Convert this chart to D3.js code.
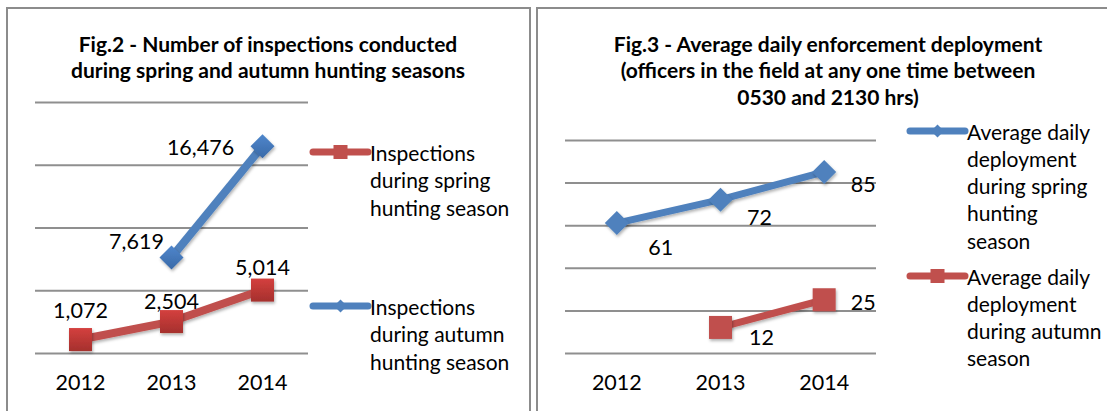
<!DOCTYPE html>
<html>
<head>
<meta charset="utf-8">
<script src="https://cdn.jsdelivr.net/npm/d3@7"></script>
<style>
  body { margin: 0; background: #fff; }
  svg text { font-family: Lato, "Open Sans", sans-serif; fill: #000; }
</style>
</head>
<body>
<svg id="chart" width="1107" height="411"></svg>
<script>
// data
var years = ["2012", "2013", "2014"];

var fig2Spring = [1072, 2504, 5014];      // red series
var fig2Autumn = [null, 7619, 16476];     // blue series
var fig2Ticks = [0, 5000, 10000, 15000, 20000];

var fig3Spring = [61, 72, 85];            // blue series
var fig3Autumn = [null, 12, 25];          // red series
var fig3Ticks = [0, 20, 40, 60, 80, 100];

var fig2Title = ["Fig.2 - Number of inspections conducted", "during spring and autumn hunting seasons"];
var fig3Title = ["Fig.3 - Average daily enforcement deployment", "(officers in the field at any one time between", "0530 and 2130 hrs)"];

var RED = "#c0504d", BLUE = "#4f81bd";

var svg = d3.select("#chart");
var defs = svg.append("defs");

var shadow = defs.append("filter").attr("id", "shadow")
    .attr("x", "-30%").attr("y", "-30%").attr("width", "160%").attr("height", "160%");
shadow.append("feDropShadow").attr("dx", 1).attr("dy", 2).attr("stdDeviation", 1.5)
    .attr("flood-color", "#000").attr("flood-opacity", 0.3);

function gradient(id, top, bottom) {
    var g = defs.append("linearGradient").attr("id", id)
        .attr("x1", 0).attr("y1", 0).attr("x2", 0).attr("y2", 1);
    g.append("stop").attr("offset", "0%").attr("stop-color", top);
    g.append("stop").attr("offset", "100%").attr("stop-color", bottom);
}
gradient("redGrad", "#d4403e", "#a5302d");
gradient("blueGrad", "#4f86cc", "#3a6aa8");

// panel frames
svg.append("rect").attr("x", 7).attr("y", 8).attr("width", 523).attr("height", 420)
    .attr("fill", "none").attr("stroke", "#8c8c8c").attr("stroke-width", 2);
svg.append("rect").attr("x", 537).attr("y", 8).attr("width", 600).attr("height", 420)
    .attr("fill", "none").attr("stroke", "#8c8c8c").attr("stroke-width", 2);

function square(g, cx, cy, s, fill) {
    g.append("rect").attr("x", cx - s / 2).attr("y", cy - s / 2)
        .attr("width", s).attr("height", s).attr("fill", fill);
}
function diamond(g, cx, cy, s, fill) {
    var h = s / 2;
    g.append("path")
        .attr("d", "M" + cx + "," + (cy - h) + "L" + (cx + h) + "," + cy + "L" + cx + "," + (cy + h) + "L" + (cx - h) + "," + cy + "Z")
        .attr("fill", fill);
}

function drawChart(opt) {
    var g = svg.append("g");

    var x = d3.scaleBand().domain(years).range([opt.x0, opt.x1]);
    var y = d3.scaleLinear().domain(opt.domain).range([353, opt.yTop]);
    var cx = function (i) { return x(years[i]) + x.bandwidth() / 2; };

    // title
    g.append("text")
        .attr("x", opt.titleX).attr("y", 43)
        .attr("text-anchor", "middle")
        .style("font-weight", "bold").style("font-size", "21px")
        .selectAll("tspan").data(opt.title).join("tspan")
        .attr("x", opt.titleX).attr("dy", function (d, i) { return i ? 26.8 : 0; })
        .attr("dominant-baseline", "central")
        .text(function (d) { return d; });

    // gridlines
    var grid = g.append("g").attr("transform", "translate(" + opt.x0 + ",0)")
        .call(d3.axisLeft(y).tickValues(opt.ticks).tickSize(-(opt.x1 - opt.x0)).tickFormat(""));
    grid.select(".domain").remove();
    grid.selectAll("line").attr("stroke", "#8f8f8f").attr("stroke-width", 2);

    // category axis
    var xa = g.append("g").attr("transform", "translate(0,375)")
        .call(d3.axisBottom(x).tickSize(0).tickPadding(0));
    xa.select(".domain").remove();
    xa.selectAll("text").style("font-size", "21.5px").attr("fill", "#000")
        .attr("dy", "0.71em");

    var line = d3.line()
        .defined(function (d) { return d != null; })
        .x(function (d, i) { return cx(i); })
        .y(function (d) { return y(d); });

    opt.series.forEach(function (s) {
        g.append("path").datum(s.values)
            .attr("d", line)
            .attr("fill", "none").attr("stroke", s.color)
            .attr("stroke-width", opt.lineWidth).attr("stroke-linejoin", "round")
            .attr("filter", "url(#shadow)");
        var mg = g.append("g").attr("filter", "url(#shadow)");
        s.values.forEach(function (v, i) {
            if (v == null) return;
            if (s.marker === "square") square(mg, cx(i), y(v), 23, s.fill);
            else diamond(mg, cx(i), y(v), 24, s.fill);
        });
        s.values.forEach(function (v, i) {
            if (v == null) return;
            g.append("text")
                .attr("x", cx(i) + s.labelOffset[i][0])
                .attr("y", y(v) + s.labelOffset[i][1])
                .attr("text-anchor", "middle").attr("dominant-baseline", "central")
                .style("font-size", "21.5px")
                .text(d3.format(",")(v));
        });
    });

    // legend
    opt.legend.forEach(function (item) {
        var lg = g.append("g");
        lg.append("line")
            .attr("x1", opt.legendX).attr("x2", opt.legendX + 55)
            .attr("y1", item.y).attr("y2", item.y)
            .attr("stroke", item.color).attr("stroke-width", 7).attr("stroke-linecap", "round");
        if (item.marker === "square") square(lg, opt.legendX + 27.5, item.y, 14, item.fill);
        else diamond(lg, opt.legendX + 27.5, item.y, 13, item.fill);
        lg.append("text").attr("y", item.y)
            .style("font-size", "21px")
            .selectAll("tspan").data(item.lines).join("tspan")
            .attr("x", opt.legendX + 57)
            .attr("dy", function (d, i) { return i ? opt.legendLine : 0; })
            .attr("dominant-baseline", "central")
            .text(function (d) { return d; });
    });
}

drawChart({
    x0: 35, x1: 308, yTop: 102, domain: [0, 20000], ticks: fig2Ticks,
    titleX: 268, title: fig2Title, lineWidth: 8,
    series: [
        { values: fig2Spring, color: RED, fill: "url(#redGrad)", marker: "square",
          labelOffset: [[0, -30], [0, -21], [0, -23]] },
        { values: fig2Autumn, color: BLUE, fill: "url(#blueGrad)", marker: "diamond",
          labelOffset: [[0, 0], [-35, -16], [-62, 1]] }
    ],
    legendX: 313, legendLine: 27.5,
    legend: [
        { y: 152, color: RED, fill: RED, marker: "square",
          lines: ["Inspections", "during spring", "hunting season"] },
        { y: 306, color: BLUE, fill: BLUE, marker: "diamond",
          lines: ["Inspections", "during autumn", "hunting season"] }
    ]
});

drawChart({
    x0: 565, x1: 876, yTop: 140, domain: [0, 100], ticks: fig3Ticks,
    titleX: 828, title: fig3Title, lineWidth: 7,
    series: [
        { values: fig3Spring, color: BLUE, fill: BLUE, marker: "diamond",
          labelOffset: [[44, 24], [39, 17], [39, 12]] },
        { values: fig3Autumn, color: RED, fill: RED, marker: "square",
          labelOffset: [[0, 0], [41, 10], [39, 2]] }
    ],
    legendX: 910, legendLine: 27.3,
    legend: [
        { y: 131, color: BLUE, fill: BLUE, marker: "diamond",
          lines: ["Average daily", "deployment", "during spring", "hunting", "season"] },
        { y: 276, color: RED, fill: RED, marker: "square",
          lines: ["Average daily", "deployment", "during autumn", "season"] }
    ]
});
</script>
</body>
</html>
